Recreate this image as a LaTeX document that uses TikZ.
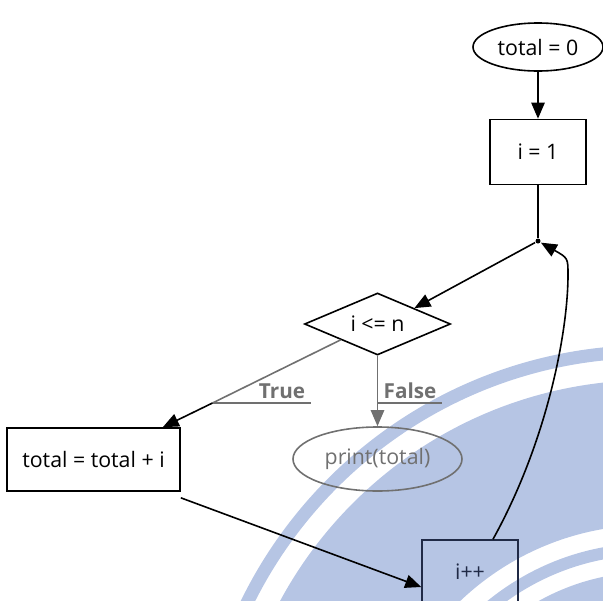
\documentclass[tikz,border=0pt]{standalone}
\usepackage{fontspec}
\setmainfont{Open Sans}
\usetikzlibrary{shapes.geometric,arrows.meta}

\definecolor{wmblue}{RGB}{182,197,228}
\definecolor{labgray}{RGB}{112,112,112}
\definecolor{inknavy}{RGB}{32,42,70}

\tikzset{every picture/.style={line width=1.2pt}}
\tikzset{
  flowtxt/.style={font=\fontsize{16}{19}\selectfont, inner sep=0pt},
  termbox/.style={flowtxt, draw, ellipse},
  stepbox/.style={flowtxt, draw, rectangle},
  testbox/.style={flowtxt, draw, diamond, aspect=2.35},
  edgelab/.style={font=\bfseries\fontsize{15.5}{18}\selectfont, text=labgray, inner ysep=0pt, inner xsep=4pt},
  flow/.style={-{Triangle[length=12pt,width=10pt]}},
}

\begin{document}
\begin{tikzpicture}[x=0.75pt,y=0.75pt,yscale=-1,xscale=1]
\useasboundingbox (0,0) rectangle (603,600);

%Watermark bands
\begin{scope}
\clip (0,0) rectangle (603,600);
\fill[wmblue, even odd rule] (650,800) circle [radius=455] circle [radius=442]
  (650,800) circle [radius=420] circle [radius=275]
  (650,800) circle [radius=257] circle [radius=245]
  (650,800) circle [radius=228];
\end{scope}

%Nodes
\node[termbox, minimum width=97.5pt, minimum height=36pt] (start) at (538,47) {total = 0};
\node[stepbox, minimum width=72pt, minimum height=48.75pt] (init) at (538,152) {i = 1};
\node[circle, fill, inner sep=0pt, minimum size=3.75pt] (join) at (538,241) {};
\node[testbox, minimum width=109.5pt, minimum height=46.5pt] (test) at (377.5,324) {i <= n};
\node[stepbox, minimum width=129.75pt, minimum height=47.25pt] (sum) at (93.5,459.5) {total = total + i};
\node[termbox, draw=labgray, text=labgray, minimum width=126.75pt, minimum height=48pt] (print) at (377.5,459) {print(total)};
\node[stepbox, draw=inknavy, text=inknavy, minimum width=72pt, minimum height=48pt] (inc) at (470,572) {i++};

% Edge labels
\coordinate (truefoot) at (212.5,403);
\coordinate (falsefoot) at (377.5,403);
\node[edgelab, anchor=base] (truelab) at (282,398) {True};
\node[edgelab, anchor=base] (falselab) at (410,398) {False};

%Connectors
\draw[flow] (start) -- (init);
\draw (init) -- (join);
\draw[flow] (join) -- (test.north east);
\draw[labgray] (test.south west) -- (truefoot);
\draw[flow] (truefoot) -- ([xshift=-13.5pt]sum.north east);
\draw[labgray, flow] (test) -- (print);
\draw[labgray, line width=0.9pt] (truefoot) -- (truefoot -| truelab.east);
\draw[labgray, line width=0.9pt] (falsefoot) -- (falsefoot -| falselab.east);
\draw[flow] ([yshift=4.5pt]sum.south east) -- ([yshift=11.25pt]inc.west);
\draw[flow] ([xshift=17.25pt]inc.north) .. controls (548,440) and (568,330) .. (568,275) .. controls (568,258) .. (join);

\end{tikzpicture}
\end{document}
